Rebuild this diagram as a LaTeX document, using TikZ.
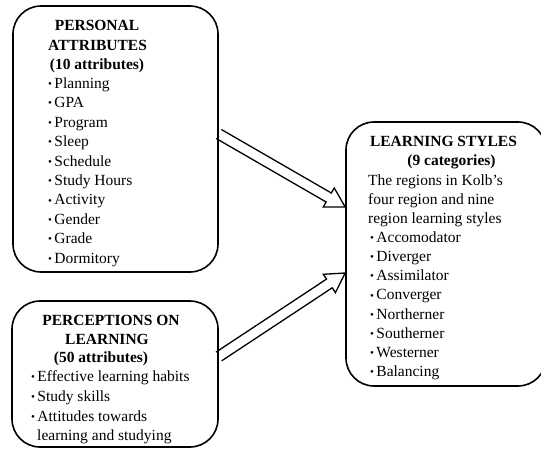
\documentclass[tikz,border=0pt]{standalone}
\usepackage{fontspec}
\setmainfont{Liberation Serif}
\usetikzlibrary{calc}
\newcommand\bodyfont{\fontsize{15.5}{19}\selectfont}
\newcommand\bul{\raisebox{0.9pt}{\fontsize{11}{11}\selectfont\textbullet}\hspace{2.4pt}}
\newcommand\fatarrow[2]{%
  \coordinate (h) at ($(#2)!19pt!(#1)$);
  \draw[fat] ($(#1)!5.2pt!90:(#2)$) -- ($(h)!5.2pt!90:(#2)$) -- ($(h)!11pt!90:(#2)$) -- (#2)
    -- ($(h)!11pt!-90:(#2)$) -- ($(h)!5.2pt!-90:(#2)$) -- ($(#1)!5.2pt!-90:(#2)$);}
\begin{document}
\begin{tikzpicture}[x=1pt,y=-1pt,
  box/.style={draw, line width=1.6pt, rounded corners=28pt, inner sep=0pt},
  ttl/.style={inner sep=0pt, anchor=base, font=\bodyfont\bfseries},
  itm/.style={inner sep=0pt, anchor=base west, font=\bodyfont},
  fat/.style={draw, line width=1.3pt, line join=miter}]
\useasboundingbox (0,0) rectangle (541,452);

% boxes
\node[box, minimum width=205pt, minimum height=266pt] (pa) at (115.5,139) {};
\node[box, minimum width=206pt, minimum height=146pt] (pl) at (115,374) {};
\node[box, minimum width=200pt, minimum height=264pt] (ls) at (446,254) {};

% personal attributes
\node[ttl] (pa1) at (97,31) {PERSONAL};
\node[ttl] (pa2) at (97.5,50.3) {ATTRIBUTES};
\node[ttl] (pa3) at (97,69.5) {(10 attributes)};
\foreach \t [count=\i] in {Planning,GPA,Program,Sleep,Schedule,Study Hours,Activity,Gender,Grade,Dormitory}
  \node[itm] (pai\i) at (48,{88.5+19.4*(\i-1)}) {\bul\t};

% perceptions on learning
\node[ttl] (pl1) at (111,325.3) {PERCEPTIONS ON};
\node[ttl] (pl2) at (107,344.3) {LEARNING};
\node[ttl] (pl3) at (101,362.7) {(50 attributes)};
\node[itm] (pli1) at (31,381.5) {\bul Effective learning habits};
\node[itm] (pli2) at (31,401.5) {\bul Study skills};
\node[itm] (pli3) at (31,421) {\bul Attitudes towards};
\node[itm] (pli4) at (37,440.5) {learning and studying};

% learning styles
\node[ttl] (ls1) at (443.5,146) {LEARNING STYLES};
\node[ttl] (ls2) at (451.5,165) {(9 categories)};
\node[itm] (lst1) at (368,185) {The regions in Kolb’s};
\node[itm] (lst2) at (368,204) {four region and nine};
\node[itm] (lst3) at (368,223) {region learning styles};
\foreach \t [count=\i] in {Accomodator,Diverger,Assimilator,Converger,Northerner,Southerner,Westerner,Balancing}
  \node[itm] (lsi\i) at (370,{242.3+19.2*(\i-1)}) {\bul\t};

% connectors
\coordinate (a1s) at (pa.east |- 0,134);
\coordinate (a1t) at (ls.west |- 0,207);
\coordinate (a2s) at (pl.east |- 0,356.5);
\coordinate (a2t) at (ls.west |- 0,273);
\fatarrow{a1s}{a1t}
\fatarrow{a2s}{a2t}
\end{tikzpicture}
\end{document}
